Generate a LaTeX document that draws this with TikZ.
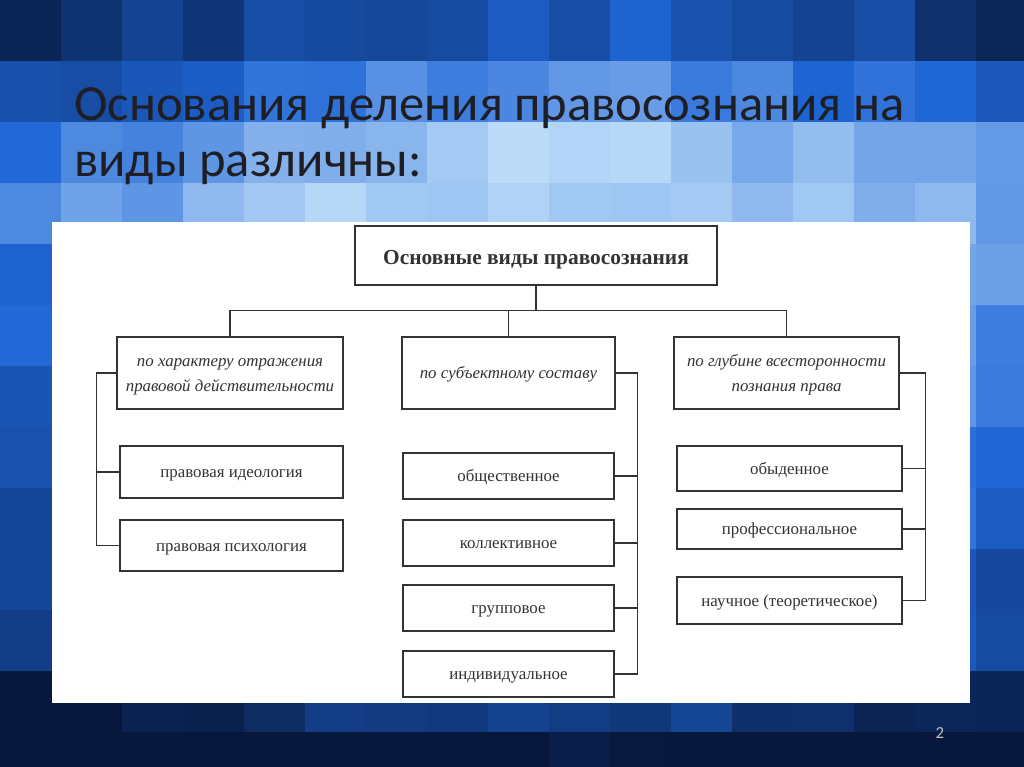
\documentclass[tikz,border=0pt]{standalone}
\usepackage{fontspec}
\setmainfont{Liberation Serif}
\newfontfamily\slidefont{Carlito}
\definecolor{bgdark}{HTML}{07183C}
\definecolor{bgmid}{HTML}{1F66D6}
\definecolor{bglight}{HTML}{C8E4FB}
\definecolor{titlegray}{HTML}{1E1E24}
\definecolor{linegray}{HTML}{333333}

\begin{document}
\begin{tikzpicture}[x=0.025cm, y=-0.025cm,
    frame/.style={draw=linegray, line width=0.9pt, fill=white, inner sep=2pt, align=center, text=black!80},
    box/.style={frame, text height=11pt, text depth=3pt, font=\fontsize{12}{15}\selectfont},
    kind/.style={frame, text height=28pt, text depth=2.4pt, font=\fontsize{12}{17.7}\selectfont\itshape},
    link/.style={draw=linegray, line width=0.8pt}]
        % background tiles
        \useasboundingbox (0,0) rectangle (1024,767);
        \fill[bgdark] (0,0) rectangle (1024,767);
        \pgfmathsetseed{11}
        \foreach \i in {0,...,16}
            \foreach \j in {0,...,12} {
                \pgfmathsetmacro\xc{\i*61+30.5}
                \pgfmathsetmacro\yc{\j*61+30.5}
                \pgfmathsetmacro\v{\yc<180 ? 0.3+0.7*\yc/180 : (\yc<640 ? 1.0-0.42*(\yc-180)/460 : 0.58-0.55*(\yc-640)/110)}
                \pgfmathsetmacro\b{\v-0.4*((\xc-560)/560)^2+(rnd-0.5)*0.16}
                \pgfmathtruncatemacro\pa{max(0,min(100,\b*200))}
                \pgfmathtruncatemacro\pb{max(0,min(100,(\b-0.5)*200))}
                \colorlet{tilebase}{bgmid!\pa!bgdark}
                \colorlet{tilecol}{bglight!\pb!tilebase}
                \fill[tilecol] (\i*61,\j*61) rectangle ++(61.5,61.5);
            }
        \fill[white] (52,222) rectangle (970,703);

        % title
        \node[anchor=base west, inner sep=0, text=titlegray, font=\slidefont\fontsize{36}{44}\selectfont]
            (title1) at (74,121) {Основания деления правосознания на};
        \node[anchor=base west, inner sep=0, text=titlegray, font=\slidefont\fontsize{36}{44}\selectfont]
            (title2) at (74,177) {виды различны:};

        % top
        \node[box, minimum width=9.05cm, minimum height=1.475cm, text height=16pt,
              font=\fontsize{15.2}{18}\selectfont\bfseries]
            (top) at (536,255.5) {Основные виды правосознания};

        % kinds
        \node[kind, minimum width=5.65cm, minimum height=1.8cm] (lcat) at (230,373)
            {по характеру отражения\\правовой действительности};
        \node[kind, minimum width=5.325cm, minimum height=1.8cm, text height=11pt, text depth=3pt] (mcat) at (508.5,373)
            {по субъектному составу};
        \node[kind, minimum width=5.625cm, minimum height=1.8cm] (rcat) at (786.5,373)
            {по глубине всесторонности\\познания права};

        % left column
        \node[box, minimum width=5.575cm, minimum height=1.3cm] (ideo) at (231.5,472) {правовая идеология};
        \node[box, minimum width=5.575cm, minimum height=1.275cm] (psy) at (231.5,545.5) {правовая психология};

        % middle column
        \node[box, minimum width=5.275cm, minimum height=1.15cm] (soc) at (508.5,476) {общественное};
        \node[box, minimum width=5.275cm, minimum height=1.15cm] (coll) at (508.5,543) {коллективное};
        \node[box, minimum width=5.275cm, minimum height=1.15cm] (grp) at (508.5,608) {групповое};
        \node[box, minimum width=5.275cm, minimum height=1.15cm] (ind) at (508.5,674) {индивидуальное};

        % right column
        \node[box, minimum width=5.625cm, minimum height=1.125cm] (ord) at (789.5,468.5) {обыденное};
        \node[box, minimum width=5.625cm, minimum height=1.0cm] (prof) at (789.5,529) {профессиональное};
        \node[box, minimum width=5.625cm, minimum height=1.175cm] (sci) at (789.5,600.5) {научное (теоретическое)};

        % connectors
        \draw[link] (top.south) -- ++(0,25) coordinate (bus);
        \draw[link] (lcat.north) |- (bus) -| (rcat.north);
        \draw[link] (mcat.north) -- (mcat.north |- bus);
        \draw[link] (lcat.west) -- ++(-20,0) coordinate (lspine);
        \draw[link] (lspine) |- (ideo.west);
        \draw[link] (lspine) |- (psy.west);
        \draw[link] (mcat.east) -- ++(22,0) coordinate (mspine);
        \foreach \n in {soc,coll,grp,ind}
            \draw[link] (mspine) |- (\n.east);
        \draw[link] (rcat.east) -- ++(26,0) coordinate (rspine);
        \foreach \n in {ord,prof,sci}
            \draw[link] (rspine) |- (\n.east);

        \node[text=black!25!white, font=\slidefont\fontsize{12}{14}\selectfont] (pagenum) at (940,733) {2};
    \end{tikzpicture}
\end{document}
